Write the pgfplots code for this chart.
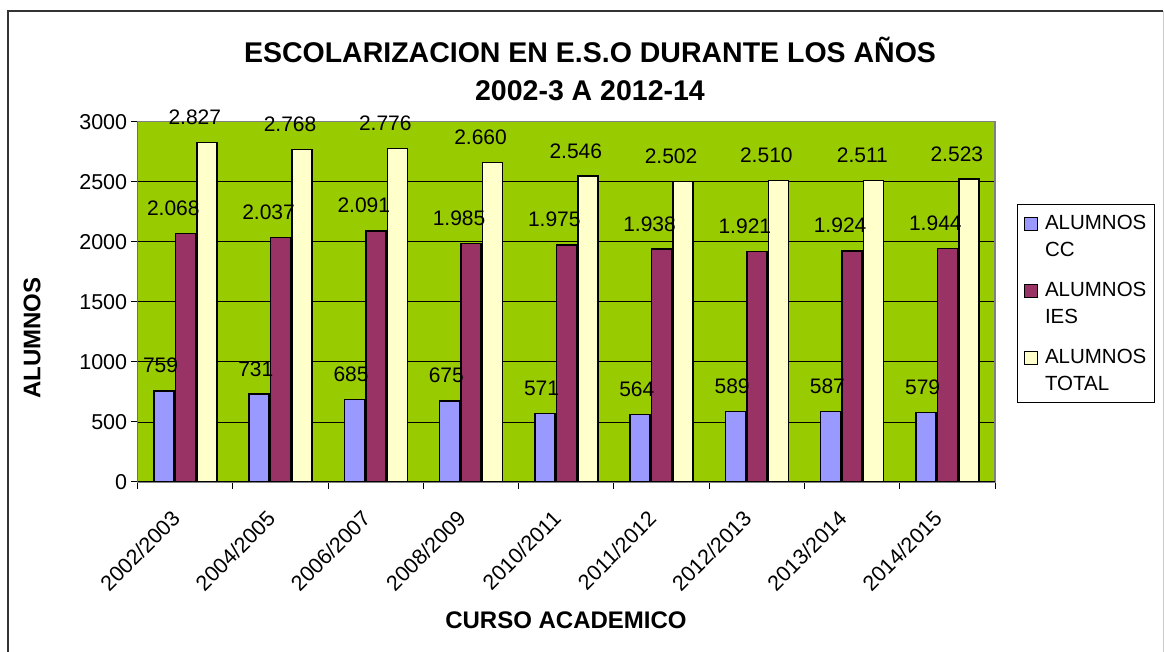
\documentclass[border=0pt]{standalone}
\usepackage{fontspec}
\setmainfont{Liberation Sans}
\usepackage{pgfplots}
\pgfplotsset{compat=1.18}
\definecolor{plotgreen}{HTML}{99CC00}
\definecolor{ccblue}{HTML}{9999FF}
\definecolor{iesred}{HTML}{993366}
\definecolor{totyellow}{HTML}{FFFFCC}
\begin{document}
\begin{tikzpicture}
\useasboundingbox (0pt,0pt) rectangle (1164pt,652pt);
\fill[white] (0pt,0pt) rectangle (1164pt,652pt);
\draw[line width=1.2pt, black!80] (8pt,-5pt) -- (8pt,641pt) -- (1163pt,641pt);
\draw[line width=1pt, black!20] (1163pt,641pt) -- (1163pt,-5pt);
\begin{axis}[
  at={(137.7pt,170pt)}, anchor=south west,
  scale only axis, width=857.3pt, height=360.3pt,
  ybar=1.5pt, bar width=20pt,
  xmin=-0.5, xmax=8.5, ymin=0, ymax=3000,
  xtick={0,...,8},
  xticklabels={2002/2003,2004/2005,2006/2007,2008/2009,2010/2011,2011/2012,2012/2013,2013/2014,2014/2015},
  minor xtick={-0.5,0.5,...,8.5},
  ytick={0,500,...,3000},
  scaled y ticks=false,
  /pgf/number format/1000 sep={},
  /pgf/number format/assume math mode=true,
  tick pos=left, tick align=outside,
  major tick length=7pt, minor tick length=7pt,
  major x tick style={draw=none},
  ymajorgrids,
  major grid style={black, line width=0.8pt},
  axis background/.style={fill=plotgreen},
  axis line style={black!50, line width=1.2pt},
  tick style={black, line width=1pt},
  ticklabel style={font=\fontsize{21.5}{25}\selectfont},
  xticklabel style={xshift=-15pt, yshift=-20pt, rotate=45, anchor=north east, inner sep=0pt},
  nodes near coords, point meta=explicit symbolic,
  every node near coord/.append style={font=\fontsize{21}{25}\selectfont, anchor=south east, inner sep=0pt, xshift=15pt, yshift=17pt, black},
  legend style={at={(1.026,0.772)}, anchor=north west, draw=black, line width=1pt,
    font=\fontsize{20.5}{26}\selectfont, cells={align=left, anchor=west}, row sep=20pt,
    inner xsep=6pt, inner ysep=9pt},
  legend image code/.code={\draw[#1, line width=1pt] (0pt,6pt) rectangle (13pt,19pt); \path (18pt,12pt);},
]
\addplot[fill=ccblue, draw=black, line width=1.5pt] coordinates {
 (0,759)[759] (1,731)[731] (2,685)[685] (3,675)[675] (4,571)[571]
 (5,564)[564] (6,589)[589] (7,587)[587] (8,579)[579]};
\addlegendentry{ALUMNOS\\[1pt]CC}
\addplot[fill=iesred, draw=black, line width=1.5pt] coordinates {
 (0,2068)[2.068] (1,2037)[2.037] (2,2091)[2.091] (3,1985)[1.985] (4,1975)[1.975]
 (5,1938)[1.938] (6,1921)[1.921] (7,1924)[1.924] (8,1944)[1.944]};
\addlegendentry{ALUMNOS\\[1pt]IES}
\addplot[fill=totyellow, draw=black, line width=1.5pt] coordinates {
 (0,2827)[2.827] (1,2768)[2.768] (2,2776)[2.776] (3,2660)[2.660] (4,2546)[2.546]
 (5,2502)[2.502] (6,2510)[2.510] (7,2511)[2.511] (8,2523)[2.523]};
\addlegendentry{ALUMNOS\\[1pt]TOTAL}
\draw[black, line width=1.2pt] (rel axis cs:0,0) -- (rel axis cs:1,0);
\draw[black!70, line width=1.2pt] (rel axis cs:0,0) -- (rel axis cs:0,1);
\end{axis}
\node[font=\bfseries\fontsize{28.5}{34}\selectfont] at (590pt,602pt) {ESCOLARIZACION EN E.S.O DURANTE LOS AÑOS};
\node[font=\bfseries\fontsize{28.5}{34}\selectfont] at (590pt,561pt) {2002-3 A 2012-14};
\node[font=\bfseries\fontsize{24}{28}\selectfont, rotate=90] at (32pt,314pt) {ALUMNOS};
\node[font=\bfseries\fontsize{24}{28}\selectfont] at (566pt,32pt) {CURSO ACADEMICO};
\end{tikzpicture}
\end{document}
